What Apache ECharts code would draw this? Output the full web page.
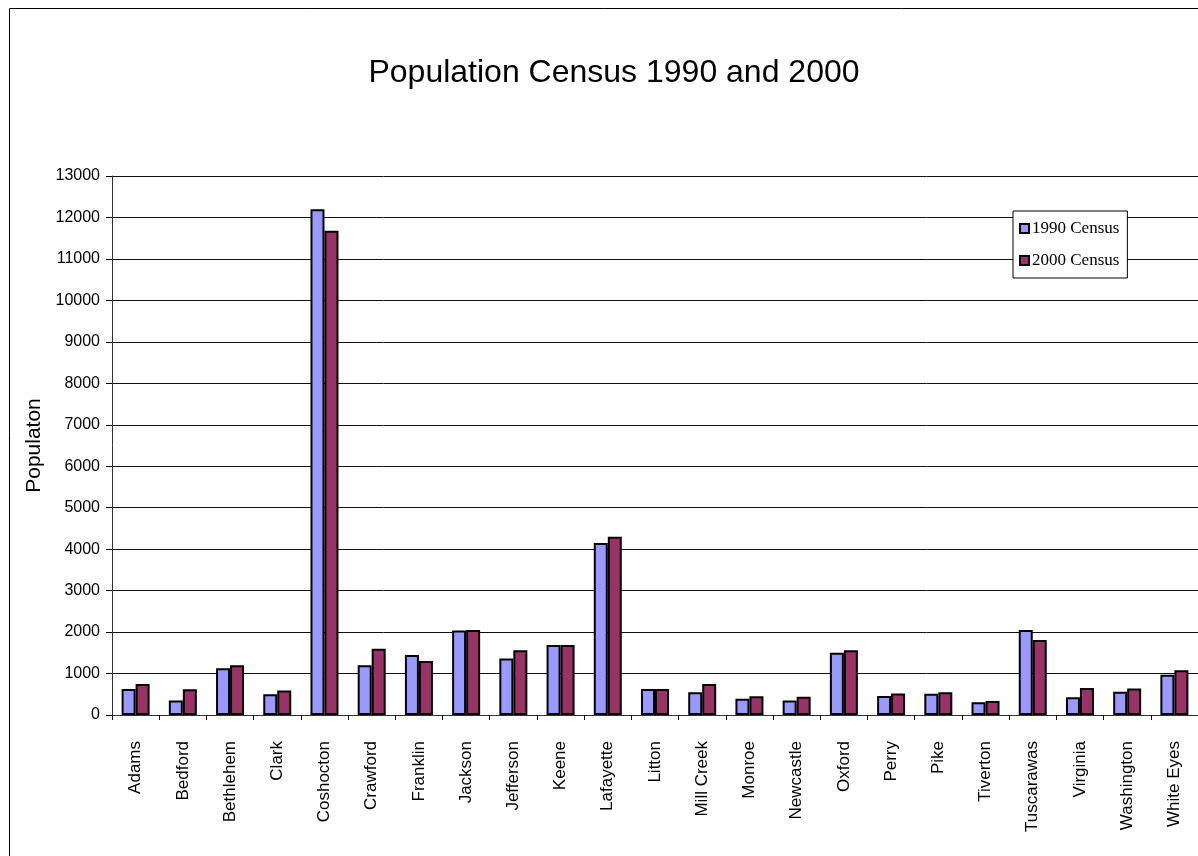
<!DOCTYPE html>
<html>
<head>
<meta charset="utf-8">
<title>Population Census 1990 and 2000</title>
<script src="https://cdn.jsdelivr.net/npm/echarts@6/dist/echarts.min.js"></script>
<style>
  html, body { margin: 0; padding: 0; background: #fff; }
  #chart { width: 1198px; height: 856px; }
</style>
</head>
<body>
<div id="chart"></div>
<script>
// townships
const townships = ['Adams', 'Bedford', 'Bethlehem', 'Clark', 'Coshocton', 'Crawford', 'Franklin',
  'Jackson', 'Jefferson', 'Keene', 'Lafayette', 'Litton', 'Mill Creek', 'Monroe', 'Newcastle',
  'Oxford', 'Perry', 'Pike', 'Tiverton', 'Tuscarawas', 'Virginia', 'Washington', 'White Eyes']

// values
const census1990 = [630, 350, 1130, 500, 12200, 1200, 1450, 2040, 1360, 1690, 4150, 630, 550,
  390, 350, 1500, 460, 510, 310, 2050, 430, 560, 970]
const census2000 = [750, 620, 1200, 590, 11680, 1600, 1300, 2050, 1560, 1690, 4300, 630, 750,
  450, 440, 1560, 520, 550, 340, 1810, 650, 640, 1080]

const seriesNames = ['1990 Census', '2000 Census']
const yTicks = { min: 0, max: 13000, interval: 1000 }

const myChart = echarts.init(document.getElementById('chart'))

const option = {
  animation: false,
  backgroundColor: '#fff',
  title: {
    text: 'Population Census 1990 and 2000',
    left: 609,
    top: 52,
    textAlign: 'center',
    textStyle: {
      fontFamily: '"Liberation Sans", Arial, sans-serif',
      fontSize: 32,
      fontWeight: 'normal',
      color: '#000'
    }
  },
  // outer frame of the chart area
  graphic: [{
    type: 'rect',
    shape: { x: 9.5, y: 8.5, width: 1300, height: 1000 },
    style: { fill: 'none', stroke: '#000', lineWidth: 1 },
    silent: true
  }],
  legend: {
    data: seriesNames,
    orient: 'vertical',
    left: 1013,
    top: 211,
    padding: [9, 8, 9, 6],
    itemGap: 15,
    itemWidth: 9,
    itemHeight: 9,
    icon: 'rect',
    backgroundColor: '#fff',
    borderColor: '#000',
    borderWidth: 1,
    textStyle: {
      fontFamily: '"Liberation Serif", serif',
      fontSize: 17,
      color: '#000',
      padding: [0, 0, 0, -2]
    }
  },
  grid: {
    left: 112,
    top: 176,
    width: 1093,
    height: 539
  },
  xAxis: {
    type: 'category',
    data: townships,
    axisLine: { lineStyle: { color: '#333', width: 1 } },
    axisTick: { show: true, length: 5, lineStyle: { color: '#000' } },
    axisLabel: {
      rotate: 90,
      margin: 26,
      fontFamily: '"Liberation Sans", Arial, sans-serif',
      fontSize: 17,
      color: '#000'
    }
  },
  yAxis: {
    type: 'value',
    min: yTicks.min,
    max: yTicks.max,
    interval: yTicks.interval,
    name: 'Populaton',
    nameLocation: 'middle',
    nameRotate: 90,
    nameGap: 64,
    nameTextStyle: {
      fontFamily: '"Liberation Sans", Arial, sans-serif',
      fontSize: 21,
      color: '#000'
    },
    axisLine: { show: true, lineStyle: { color: '#333', width: 1 } },
    axisTick: { show: true, length: 6, lineStyle: { color: '#000' } },
    axisLabel: {
      margin: 12,
      formatter: (v) => String(v),
      fontFamily: '"Liberation Sans", Arial, sans-serif',
      fontSize: 16,
      color: '#000'
    },
    splitLine: { lineStyle: { color: '#111', width: 1 } }
  },
  series: [
    {
      type: 'bar',
      name: seriesNames[0],
      data: census1990,
      barWidth: 14,
      barGap: '0%',
      itemStyle: { color: '#9999ff', borderColor: '#000', borderWidth: 2 }
    },
    {
      type: 'bar',
      name: seriesNames[1],
      data: census2000,
      barWidth: 14,
      barGap: '0%',
      itemStyle: { color: '#993366', borderColor: '#000', borderWidth: 2 }
    }
  ]
}

myChart.setOption(option)
</script>
</body>
</html>
